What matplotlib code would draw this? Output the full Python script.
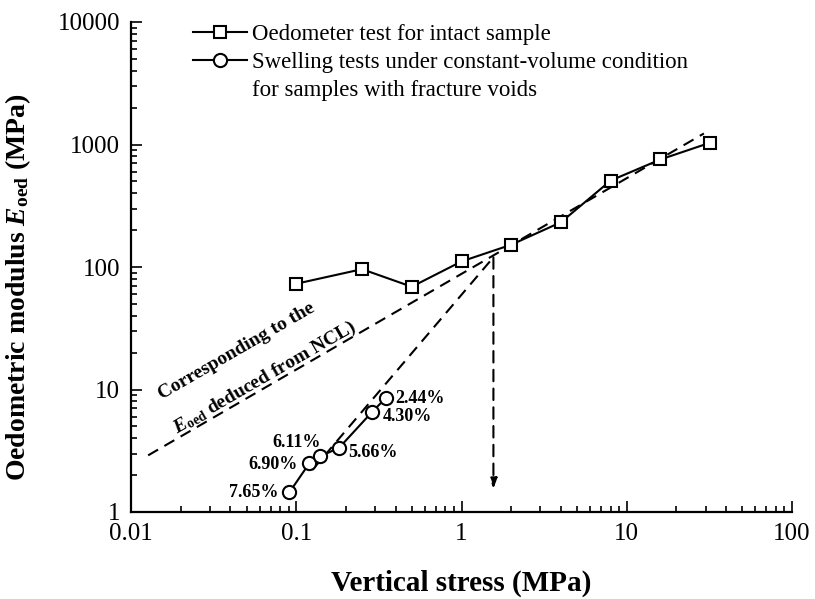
import matplotlib
matplotlib.use("Agg")
import matplotlib.pyplot as plt
from matplotlib.lines import Line2D

plt.rcParams['font.family'] = ['Liberation Serif', 'DejaVu Serif']
plt.rcParams['mathtext.fontset'] = 'custom'
plt.rcParams['mathtext.rm'] = 'Liberation Serif'
plt.rcParams['mathtext.it'] = 'Liberation Serif:italic'
plt.rcParams['mathtext.bf'] = 'Liberation Serif:bold'
plt.rcParams['mathtext.bfit'] = 'Liberation Serif:bold:italic'

# oedometer test, intact sample
sq_x = [0.1, 0.25, 0.5, 1, 2, 4, 8, 16, 32]
sq_y = [73, 96, 69, 111, 152, 232, 508, 755, 1035]

# swelling tests, constant volume, fractured samples
circ_x = [0.091, 0.12, 0.14, 0.182, 0.289, 0.351]
circ_y = [1.45, 2.5, 2.85, 3.35, 6.6, 8.6]
circ_labels = ['7.65%', '6.90%', '6.11%', '5.66%', '4.30%', '2.44%']

# dashed guide lines
ncl_x = [0.0127, 29.3]
ncl_y = [2.9, 1230]
steep_x = [0.125, 1.56]
steep_y = [2.2, 120]
arrow_x = 1.56
arrow_y = [120, 1.55]

xticks = [0.01, 0.1, 1, 10, 100]
xtick_labels = ['0.01', '0.1', '1', '10', '100']
yticks = [1, 10, 100, 1000, 10000]
ytick_labels = ['1', '10', '100', '1000', '10000']

fig = plt.figure(figsize=(8.15, 5.99), dpi=100)
ax = fig.add_axes([131 / 815, 1 - 512 / 599, 661 / 815, 490 / 599])

ax.set_xscale('log')
ax.set_yscale('log')
ax.set_xlim(0.01, 100)
ax.set_ylim(1, 10000)

dash = (5.5, 3.5)
ax.plot(ncl_x, ncl_y, color='black', lw=1.5, ls=(0, dash))
ax.plot(steep_x, steep_y, color='black', lw=1.5, ls=(0, dash))
ax.annotate('', xy=(arrow_x, arrow_y[1]), xytext=(arrow_x, arrow_y[0]),
            arrowprops=dict(arrowstyle='-|>,head_length=0.6,head_width=0.22',
                            color='black', lw=1.5, ls=(0, dash),
                            shrinkA=0, shrinkB=0))

sq_line, = ax.plot(sq_x, sq_y, color='black', lw=1.5, marker='s', ms=9,
                   mfc='white', mec='black', mew=1.5)
circ_line, = ax.plot(circ_x, circ_y, color='black', lw=1.5, marker='o', ms=9.5,
                     mfc='white', mec='black', mew=1.5)

# percentage labels next to circles (offsets in pixels)
offsets = [(-11, 0, 'right'), (-12, -1, 'right'), (0, 14, 'right'),
           (9, -5, 'left'), (10, -5, 'left'), (9, -1, 'left')]
for x, y, lab, (dx, dy, ha) in zip(circ_x, circ_y, circ_labels, offsets):
    ax.annotate(lab, xy=(x, y), xytext=(dx, dy), textcoords='offset pixels',
                ha=ha, va='center', fontsize=13, fontweight='bold')

ax.text(0.0433, 20.7, 'Corresponding to the', rotation=30, rotation_mode='anchor',
        ha='center', va='center', fontsize=14, fontweight='bold')
ax.text(0.0649, 12.5, r'$\mathbfit{E}_{\mathbf{oed}}$ deduced from NCL)', rotation=30,
        rotation_mode='anchor', ha='center', va='center', fontsize=14, fontweight='bold')

ax.set_xticks(xticks, labels=xtick_labels)
ax.set_yticks(yticks, labels=ytick_labels)
ax.tick_params(which='both', direction='in', labelsize=18, width=1.2)
ax.tick_params(which='major', length=8)
ax.tick_params(which='minor', length=4.5)
ax.tick_params(axis='y', pad=8)
ax.tick_params(axis='x', pad=8)

for s in ['top', 'right']:
    ax.spines[s].set_visible(False)
for s in ['left', 'bottom']:
    ax.spines[s].set_linewidth(1.6)

ax.set_xlabel('Vertical stress (MPa)', fontsize=21, fontweight='bold')
ax.set_ylabel(r'Oedometric modulus $\mathbfit{E}_{\mathbf{oed}}$ (MPa)', fontsize=20,
              fontweight='bold')
ax.xaxis.set_label_coords(0.5, -0.118)
ax.yaxis.set_label_coords(-0.148, 0.459)

blank = Line2D([], [], linestyle='none')
ax.legend([sq_line, circ_line, blank],
          ['Oedometer test for intact sample',
           'Swelling tests under constant-volume condition',
           'for samples with fracture voids'],
          loc='upper left', bbox_to_anchor=(0.094, 0.996), frameon=False,
          fontsize=16.5, handlelength=2.35, handletextpad=0.2,
          labelspacing=0.3, borderpad=0, borderaxespad=0)

fig.savefig('out.png', dpi=100)
